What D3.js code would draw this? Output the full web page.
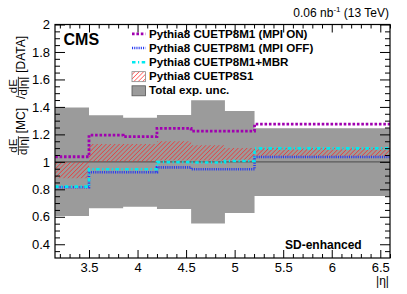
<!DOCTYPE html>
<html>
<head>
<meta charset="utf-8">
<script src="https://cdn.jsdelivr.net/npm/d3@7"></script>
<style>
  body { margin: 0; background: #fff; }
  svg { display: block; font-family: "Liberation Sans", Arial, sans-serif; }
</style>
</head>
<body>
<svg id="chart" width="407" height="294"></svg>
<script>
// Bin edges in |eta| and per-bin ratios MC / DATA
const etaEdges = [3.152, 3.5, 3.852, 4.2, 4.552, 4.9, 5.205, 6.6];
const uncLo = [0.605, 0.662, 0.673, 0.657, 0.552, 0.627, 0.751];
const uncHi = [1.395, 1.339, 1.321, 1.341, 1.448, 1.370, 1.244];
const mpiOn = [1.037, 1.195, 1.183, 1.244, 1.224, 1.224, 1.275];
const mpiOff = [0.815, 0.924, 0.924, 0.960, 0.946, 0.946, 1.035];
const mbr = [0.820, 0.946, 0.946, 0.998, 0.995, 1.006, 1.098];
const s1Lo = [0.880, 1.000, 1.000, 1.010, 1.010, 1.010, 1.040];
const s1Hi = [1.000, 1.130, 1.130, 1.150, 1.120, 1.100, 1.100];

const xTicks = [3.5, 4, 4.5, 5, 5.5, 6, 6.5];
const yTicks = [0.4, 0.6, 0.8, 1, 1.2, 1.4, 1.6, 1.8, 2];
const legendLabels = [
  "Pythia8 CUETP8M1 (MPI ON)",
  "Pythia8 CUETP8M1 (MPI OFF)",
  "Pythia8 CUETP8M1+MBR",
  "Pythia8 CUETP8S1",
  "Total exp. unc."
];

const frame = { left: 55, right: 390, top: 24.5, bottom: 258 };
const svg = d3.select("#chart");

const x = d3.scaleLinear().domain([3.15, 6.6]).range([frame.left, frame.right]);
const y = d3.scaleLinear().domain([0.3, 2]).range([frame.bottom, frame.top]);

const defs = svg.append("defs");
const hatch = defs.append("pattern")
  .attr("id", "hatch")
  .attr("patternUnits", "userSpaceOnUse")
  .attr("width", 3.1).attr("height", 3.1)
  .attr("patternTransform", "rotate(45)");
hatch.append("line")
  .attr("x1", 0).attr("y1", 0).attr("x2", 0).attr("y2", 3.1)
  .attr("stroke", "#ff2020").attr("stroke-width", 1.1);
defs.append("clipPath").attr("id", "plotClip")
  .append("rect")
  .attr("x", frame.left).attr("y", frame.top)
  .attr("width", frame.right - frame.left).attr("height", frame.bottom - frame.top);

// step data: each bin value repeated, final point closes the last bin
const steps = vals => vals.map((v, i) => ({ e: etaEdges[i], v }))
  .concat([{ e: etaEdges[etaEdges.length - 1], v: vals[vals.length - 1] }]);
const bandSteps = (lo, hi) => lo.map((v, i) => ({ e: etaEdges[i], lo: v, hi: hi[i] }))
  .concat([{ e: etaEdges[etaEdges.length - 1], lo: lo[lo.length - 1], hi: hi[hi.length - 1] }]);

const plot = svg.append("g").attr("clip-path", "url(#plotClip)");

const band = d3.area()
  .x(d => x(d.e)).y0(d => y(d.lo)).y1(d => y(d.hi))
  .curve(d3.curveStepAfter);

// total experimental uncertainty
plot.append("path")
  .datum(bandSteps(uncLo, uncHi))
  .attr("d", band)
  .attr("fill", "#9b9b9b");

// reference line at 1
plot.append("line")
  .attr("x1", frame.left).attr("x2", frame.right)
  .attr("y1", y(1)).attr("y2", y(1))
  .attr("stroke", "#5a5a5a").attr("stroke-width", 1.4);

// CUETP8S1 hatched band
plot.append("path")
  .datum(bandSteps(s1Lo, s1Hi))
  .attr("d", band)
  .attr("fill", "url(#hatch)");

const stepLine = d3.line()
  .x(d => x(d.e)).y(d => y(d.v))
  .curve(d3.curveStepAfter);

const lineStyles = [
  { vals: mpiOn, color: "#a000b0", width: 2.8, dash: "2.6,1.8" },
  { vals: mpiOff, color: "#2a3cf0", width: 2.6, dash: "1.1,1.1" },
  { vals: mbr, color: "#00eaf0", width: 2.6, dash: "3.5,2.5,1.2,2.5" }
];
lineStyles.forEach(s => {
  plot.append("path")
    .datum(steps(s.vals))
    .attr("d", stepLine)
    .attr("fill", "none")
    .attr("stroke", s.color)
    .attr("stroke-width", s.width)
    .attr("stroke-dasharray", s.dash);
});

// axes: ticks inside the frame on all four sides
const fmt = d => String(d);
const xMinor = d3.range(32, 67).map(v => v / 10).filter(v => !xTicks.includes(v));
const yMinor = d3.range(7, 40).map(v => v / 20).filter(v => !yTicks.some(t => Math.abs(t - v) < 1e-9));

function styleAxis(g) {
  g.select(".domain").remove();
  g.selectAll(".tick line").attr("stroke", "#000").attr("stroke-width", 1);
  g.selectAll(".tick text")
    .attr("fill", "#000")
    .attr("font-size", 13)
    .attr("font-family", "Liberation Sans, Arial, sans-serif");
}

svg.append("g").attr("transform", `translate(0,${frame.bottom})`)
  .call(d3.axisBottom(x).tickValues(xTicks).tickFormat(fmt).tickSizeInner(-8).tickSizeOuter(0).tickPadding(4.8))
  .call(styleAxis);
svg.append("g").attr("transform", `translate(0,${frame.bottom})`)
  .call(d3.axisBottom(x).tickValues(xMinor).tickFormat("").tickSizeInner(-4).tickSizeOuter(0))
  .call(styleAxis);
svg.append("g").attr("transform", `translate(0,${frame.top})`)
  .call(d3.axisTop(x).tickValues(xTicks).tickFormat("").tickSizeInner(-8).tickSizeOuter(0))
  .call(styleAxis);
svg.append("g").attr("transform", `translate(0,${frame.top})`)
  .call(d3.axisTop(x).tickValues(xMinor).tickFormat("").tickSizeInner(-4).tickSizeOuter(0))
  .call(styleAxis);

svg.append("g").attr("transform", `translate(${frame.left},0)`)
  .call(d3.axisLeft(y).tickValues(yTicks).tickFormat(fmt).tickSizeInner(-10).tickSizeOuter(0).tickPadding(5))
  .call(styleAxis);
svg.append("g").attr("transform", `translate(${frame.left},0)`)
  .call(d3.axisLeft(y).tickValues(yMinor).tickFormat("").tickSizeInner(-5).tickSizeOuter(0))
  .call(styleAxis);
svg.append("g").attr("transform", `translate(${frame.right},0)`)
  .call(d3.axisRight(y).tickValues(yTicks).tickFormat("").tickSizeInner(-10).tickSizeOuter(0))
  .call(styleAxis);
svg.append("g").attr("transform", `translate(${frame.right},0)`)
  .call(d3.axisRight(y).tickValues(yMinor).tickFormat("").tickSizeInner(-5).tickSizeOuter(0))
  .call(styleAxis);

// frame
svg.append("rect")
  .attr("x", frame.left).attr("y", frame.top)
  .attr("width", frame.right - frame.left).attr("height", frame.bottom - frame.top)
  .attr("fill", "none").attr("stroke", "#000").attr("stroke-width", 1.2);

// x title
svg.append("text")
  .attr("x", frame.right - 1).attr("y", 285)
  .attr("text-anchor", "end").attr("font-size", 12)
  .text("|η|");

// y title: dE/d|η| [MC] / dE/d|η| [DATA], rotated, built piece by piece
const yTitle = svg.append("g").attr("transform", "translate(25,155) rotate(-90)");
let pos = 0;
function frac(num, den) {
  const t1 = yTitle.append("text").attr("y", -8).attr("font-size", 11.5).text(num);
  const t2 = yTitle.append("text").attr("y", 1.5).attr("font-size", 11.5).text(den);
  const w1 = t1.node().getComputedTextLength();
  const w2 = t2.node().getComputedTextLength();
  const w = Math.max(w1, w2);
  t1.attr("x", pos + (w - w1) / 2);
  t2.attr("x", pos + (w - w2) / 2);
  yTitle.append("line")
    .attr("x1", pos).attr("x2", pos + w)
    .attr("y1", -6.6).attr("y2", -6.6)
    .attr("stroke", "#000").attr("stroke-width", 0.8);
  pos += w;
}
function word(s, gap) {
  pos += gap;
  const t = yTitle.append("text").attr("x", pos).attr("y", 0).attr("font-size", 12).text(s);
  pos += t.node().getComputedTextLength();
}
frac("dE", "d|η|");
word("[MC]", 3);
word("/", 9);
frac("dE", "d|η|");
word("[DATA]", 4);

// top-right luminosity label
const lumi = svg.append("text")
  .attr("x", frame.right - 1).attr("y", 17)
  .attr("text-anchor", "end").attr("font-size", 12);
lumi.append("tspan").text("0.06 nb");
lumi.append("tspan").attr("font-size", 8).attr("dy", -5).text("-1");
lumi.append("tspan").attr("dy", 5).text(" (13 TeV)");

// CMS and selection labels
svg.append("text")
  .attr("x", 63.5).attr("y", 44.5)
  .attr("font-size", 16).attr("font-weight", "bold")
  .text("CMS");
svg.append("text")
  .attr("x", 285).attr("y", 249)
  .attr("font-size", 12).attr("font-weight", "bold")
  .text("SD-enhanced");

// legend
const legBase = 37.7, legStep = 14.15, legX = 132, legW = 13.5;
const legend = svg.append("g");
legendLabels.forEach((lab, i) => {
  const by = legBase + i * legStep;
  legend.append("text")
    .attr("x", 149).attr("y", by)
    .attr("font-size", 11.6).attr("font-weight", "bold")
    .text(lab);
  if (i < 3) {
    const s = lineStyles[i];
    legend.append("line")
      .attr("x1", legX).attr("x2", legX + legW)
      .attr("y1", by - 3.8).attr("y2", by - 3.8)
      .attr("stroke", s.color).attr("stroke-width", s.width)
      .attr("stroke-dasharray", s.dash);
  } else {
    legend.append("rect")
      .attr("x", legX).attr("y", by - 8.5)
      .attr("width", legW).attr("height", 10)
      .attr("fill", i === 3 ? "url(#hatch)" : "#9b9b9b")
      .attr("stroke", i === 3 ? "#888" : "#555")
      .attr("stroke-width", 0.8);
  }
});
</script>
</body>
</html>
